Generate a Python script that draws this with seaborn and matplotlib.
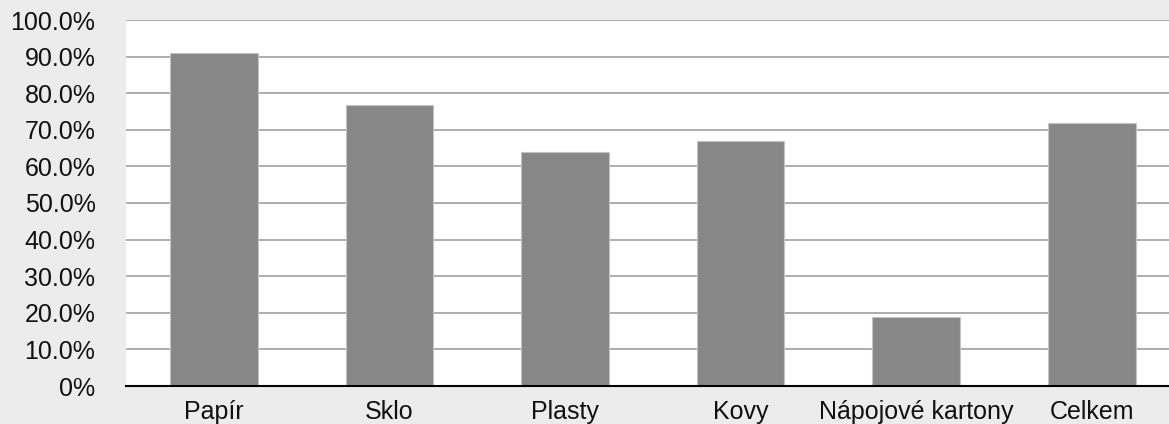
import matplotlib
matplotlib.use("Agg")
import matplotlib.pyplot as plt
from matplotlib.ticker import FuncFormatter, MultipleLocator
import seaborn as sns
import pandas as pd

# Recycling rate per packaging material
categories = ["Papír", "Sklo", "Plasty", "Kovy", "Nápojové kartony", "Celkem"]
rates = [90.9, 76.8, 63.9, 66.9, 18.9, 71.9]

df = pd.DataFrame({"material": categories, "rate": rates})

sns.set_style("white")
plt.rcParams["font.family"] = ["Liberation Sans", "DejaVu Sans"]

fig = plt.figure(figsize=(11.69, 4.24), dpi=100)
fig.patch.set_facecolor("#ececec")

W, H = 1169, 424
ax = fig.add_axes([126 / W, 38 / H, 1053.6 / W, 366 / H])
ax.set_facecolor("white")

sns.barplot(data=df, x="material", y="rate", order=categories,
            color="#878787", saturation=1, width=0.5,
            edgecolor="#c4c4c4", linewidth=0.8, ax=ax, zorder=3)

ax.set_xlim(-0.5, len(categories) - 0.5)
ax.set_ylim(0, 100)
ax.yaxis.set_major_locator(MultipleLocator(10))
ax.yaxis.set_major_formatter(
    FuncFormatter(lambda v, _: "0%" if v == 0 else f"{v:.1f}%"))

ax.grid(axis="y", color="#a0a0a0", linewidth=1.2, zorder=0)
ax.set_axisbelow(True)

for side in ("top", "right", "left"):
    ax.spines[side].set_visible(False)
ax.spines["bottom"].set_color("black")
ax.spines["bottom"].set_linewidth(1.5)
ax.spines["bottom"].set_zorder(5)

ax.tick_params(axis="y", length=0, pad=22, labelsize=18, labelcolor="#111111")
ax.tick_params(axis="x", length=0, pad=10, labelsize=18, labelcolor="#111111")
ax.set_xlabel("")
ax.set_ylabel("")

fig.savefig("out.png", dpi=100, facecolor=fig.get_facecolor())
